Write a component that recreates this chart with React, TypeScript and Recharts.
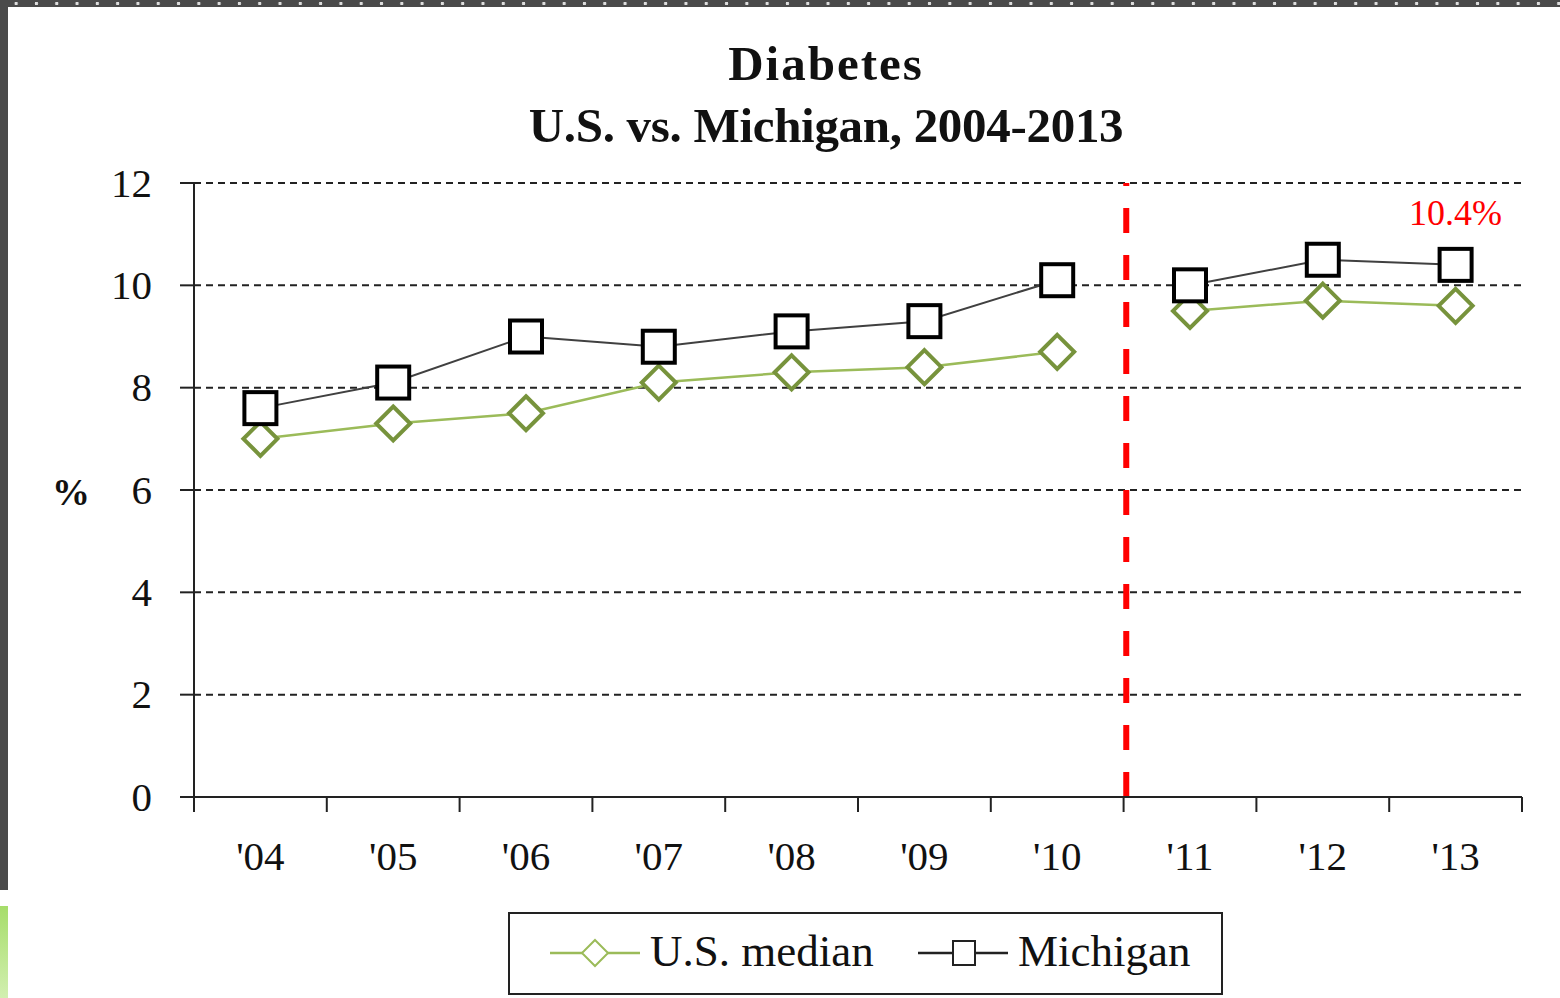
import React from 'react';
import { LineChart, Line, XAxis, YAxis, CartesianGrid, ReferenceLine } from 'recharts';

const years = ["'04", "'05", "'06", "'07", "'08", "'09", "'10", "'11", "'12", "'13"];
const michigan = [7.6, 8.1, 9.0, 8.8, 9.1, 9.3, 10.1, 10.0, 10.5, 10.4];
const usMedian = [7.0, 7.3, 7.5, 8.1, 8.3, 8.4, 8.7, 9.5, 9.7, 9.6];
const yTicks = [0, 2, 4, 6, 8, 10, 12];
// survey method changed after 2010, so the series break there
const breakAfter = 7;

const FONT = '"Liberation Serif", "DejaVu Serif", serif';
const GREEN_LINE = '#9bbb59';
const GREEN_MARK = '#77933c';

const data = years.map((y, i) => ({
  x: i + 0.5,
  year: y,
  mi1: i < breakAfter ? michigan[i] : null,
  mi2: i >= breakAfter ? michigan[i] : null,
  us1: i < breakAfter ? usMedian[i] : null,
  us2: i >= breakAfter ? usMedian[i] : null,
}));

const xTicks: number[] = [];
for (let i = 0; i <= years.length * 2; i++) xTicks.push(i / 2);

const SquareDot = (props: any) => {
  const { cx, cy, value } = props;
  if (value == null || cx == null) return null;
  return <rect x={cx - 16} y={cy - 16} width={32} height={32} fill="#fff" stroke="#000" strokeWidth={4} />;
};

const DiamondDot = (props: any) => {
  const { cx, cy, value } = props;
  if (value == null || cx == null) return null;
  const r = 17;
  return (
    <path d={`M${cx},${cy - r} L${cx + r},${cy} L${cx},${cy + r} L${cx - r},${cy} Z`}
      fill="#fff" stroke={GREEN_MARK} strokeWidth={4} />
  );
};

const XTick = (props: any) => {
  const { x, y, payload } = props;
  const v = payload.value;
  if (Number.isInteger(v)) {
    return <line x1={x} y1={y} x2={x} y2={y + 15} stroke="#222" strokeWidth={2} />;
  }
  const label = years[Math.floor(v)];
  return (
    <text x={x} y={y + 73} textAnchor="middle" fontFamily={FONT} fontSize={41} fill="#111">{label}</text>
  );
};

const LastLabel = (props: any) => {
  const { x, y, index } = props;
  if (index !== years.length - 1) return null;
  return (
    <text x={x} y={y - 40} textAnchor="middle" fontFamily={FONT} fontSize={36} fill="#ff0000">
      {michigan[index].toFixed(1)}%
    </text>
  );
};

export default function App() {
  return (
    <div style={{ position: 'absolute', left: 0, top: 0, width: 1560, height: 998, background: '#fff', overflow: 'hidden' }}>
      {/* slide frame */}
      <div style={{ position: 'absolute', left: 0, top: 0, width: 1560, height: 7, background: '#4a4a4a',
        backgroundImage: 'radial-gradient(circle, #ddd 1.5px, transparent 2px)', backgroundSize: '20.3px 7px', backgroundPosition: '6px 0' }} />
      <div style={{ position: 'absolute', left: 0, top: 0, width: 8, height: 890, background: '#4a4a4a' }} />
      <div style={{ position: 'absolute', left: 0, top: 906, width: 8, height: 92, background: 'linear-gradient(#a6dd6a, #d2efb0)' }} />

      <div style={{ position: 'absolute', left: 0, top: 0, width: 1560, textAlign: 'center', fontFamily: FONT, fontWeight: 'bold', color: '#111', fontSize: 49, lineHeight: '62px', paddingTop: 33, paddingLeft: 92, boxSizing: 'border-box' }}>
        <div style={{ letterSpacing: 2 }}>Diabetes</div>
        <div style={{ letterSpacing: -0.3 }}>U.S. vs. Michigan, 2004-2013</div>
      </div>
      <div style={{ position: 'absolute', left: 52, top: 470, fontFamily: FONT, fontSize: 38, fontWeight: 'bold', color: '#111' }}>%</div>

      <LineChart width={1560} height={998} data={data} margin={{ top: 183, right: 38, bottom: 141, left: 0 }} style={{ position: 'absolute', left: 0, top: 0 }}>
        <CartesianGrid horizontal vertical={false} stroke="#222" strokeWidth={2} strokeDasharray="7 5" horizontalValues={[2, 4, 6, 8, 10, 12]} />
        <XAxis type="number" dataKey="x" domain={[0, years.length]} ticks={xTicks} interval={0}
          tickLine={false} tickSize={0} tickMargin={0} tick={<XTick />} height={60}
          axisLine={{ stroke: '#222', strokeWidth: 2 }} />
        <YAxis type="number" domain={[0, 12]} ticks={yTicks} interval={0} width={194}
          tickSize={14} tickMargin={28} axisLine={{ stroke: '#222', strokeWidth: 2 }}
          tickLine={{ stroke: '#222', strokeWidth: 2 }}
          tick={{ fontFamily: FONT, fontSize: 41, fill: '#111', dy: -1 }} />
        <ReferenceLine x={breakAfter + 0.02} stroke="#ff0000" strokeWidth={6} strokeDasharray="25 22" />
        <Line dataKey="us1" stroke={GREEN_LINE} strokeWidth={2.5} dot={<DiamondDot />} isAnimationActive={false} connectNulls={false} />
        <Line dataKey="us2" stroke={GREEN_LINE} strokeWidth={2.5} dot={<DiamondDot />} isAnimationActive={false} connectNulls={false} />
        <Line dataKey="mi1" stroke="#404040" strokeWidth={2} dot={<SquareDot />} isAnimationActive={false} connectNulls={false} />
        <Line dataKey="mi2" stroke="#404040" strokeWidth={2} dot={<SquareDot />} isAnimationActive={false} connectNulls={false}
          label={<LastLabel />} />
      </LineChart>

      <svg style={{ position: 'absolute', left: 508, top: 912 }} width={716} height={84}>
        <rect x={1} y={1} width={713} height={81} fill="#fff" stroke="#222" strokeWidth={2} />
        <line x1={42} y1={41} x2={132} y2={41} stroke={GREEN_LINE} strokeWidth={2.5} />
        <path d="M87,28 L100,41 L87,54 L74,41 Z" fill="#fff" stroke={GREEN_LINE} strokeWidth={2} />
        <text x={142} y={54} fontFamily={FONT} fontSize={45} fill="#111">U.S. median</text>
        <line x1={410} y1={41} x2={500} y2={41} stroke="#222" strokeWidth={2.5} />
        <rect x={445} y={29} width={22} height={24} fill="#fff" stroke="#222" strokeWidth={2} />
        <text x={510} y={54} fontFamily={FONT} fontSize={45} fill="#111">Michigan</text>
      </svg>
    </div>
  );
}
